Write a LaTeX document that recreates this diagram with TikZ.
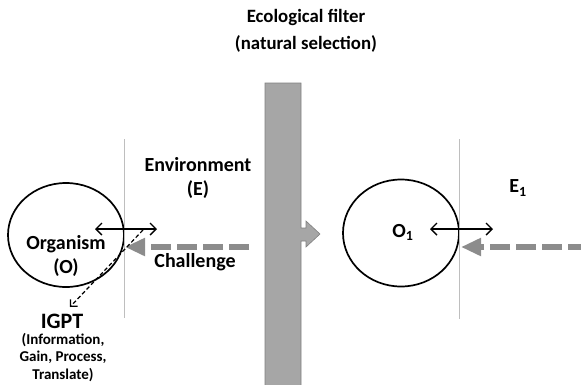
\documentclass[tikz,border=0pt]{standalone}
\usepackage{fontspec}
\setmainfont{Carlito}
\usetikzlibrary{arrows.meta,shapes.geometric}
\definecolor{cBar}     {RGB}{166,166,166}
\definecolor{cBarEdge} {RGB}{128,128,128}
\definecolor{cChal}    {RGB}{140,140,140}
\definecolor{cLine}    {RGB}{190,190,190}
\newcommand{\fsz}[2]{\bfseries\fontsize{#1}{#2}\selectfont}

\begin{document}
\begin{tikzpicture}[x=1pt,y=-1pt,
  lbl/.style={inner sep=0pt,align=center,font=\fsz{20}{24}},
  orgcircle/.style={ellipse,draw,line width=1.7pt,inner sep=0pt},
  envline/.style={cLine,line width=0.6pt},
  twoway/.style={{Straight Barb[length=6pt,width=12pt]}-{Straight Barb[length=6pt,width=12pt]},line width=1.4pt},
  challenge/.style={cChal,line width=5.5pt,dash pattern=on 20pt off 6pt,
    -{Triangle[length=20pt,width=17pt]}},
  igptarrow/.style={dash pattern=on 4pt off 2.5pt,line width=1.2pt,
    -{Straight Barb[length=5pt,width=10pt]}}]

% fundo
\useasboundingbox (0,0) rectangle (581,384);

% =================== TÍTULO ===================
\node[lbl,font=\fsz{18.8}{27}] (title) at (306,31)
  {Ecological filter\\(natural selection)};

% =================== FILTRO ===================
\draw[fill=cBar,draw=cBarEdge,line width=0.6pt]
  (265,83) -- (301,83) -- (301,228) -- (306,228) -- (306,221) -- (320,234)
  -- (306,247) -- (306,241) -- (301,241) -- (301,390) -- (265,390) -- cycle;

% =================== ORGANISMO (O) ===================
\node[orgcircle,minimum width=116pt,minimum height=104pt] (org) at (66,235) {};
\draw[envline] (124,139) -- (124,318);
\node[lbl] (orgtxt) at (66,256) {Organism\\(O)};
\node[lbl] (env) at (198,178) {Environment\\(E)};
\node[lbl] (chal) at (195,262) {Challenge};

\coordinate (oL) at (95,229);
\coordinate (oR) at (157,229);
\draw[twoway] (oL) -- (oR);

\coordinate (chalstart) at (249,247);
\coordinate (chalend) at (125,247);
\draw[challenge] (chalstart) -- (chalend);

\node[lbl,font=\fsz{22}{24}] (igpt) at (62,321) {IGPT};
\node[lbl,font=\fsz{15}{17.5}] (igptlong) at (63,357.5)
  {(Information,\\Gain, Process,\\Translate)};
\coordinate (igptstart) at (143,230);
\coordinate (igptend) at (70,307);
\draw[igptarrow] (igptstart) -- (igptend);

% =================== ORGANISMO (O1) ===================
\node[orgcircle,minimum width=116pt,minimum height=107pt] (org1) at (401,233) {};
\draw[envline] (459,139) -- (459,319);
\node[lbl] (org1txt) at (403,232) {O\textsubscript{1}};
\node[lbl] (env1) at (518,188) {E\textsubscript{1}};

\coordinate (pL) at (430,229);
\coordinate (pR) at (493,229);
\draw[twoway] (pL) -- (pR);

\coordinate (chal1start) at (588,247);
\coordinate (chal1end) at (461,247);
\draw[challenge] (chal1start) -- (chal1end);

\end{tikzpicture}
\end{document}
